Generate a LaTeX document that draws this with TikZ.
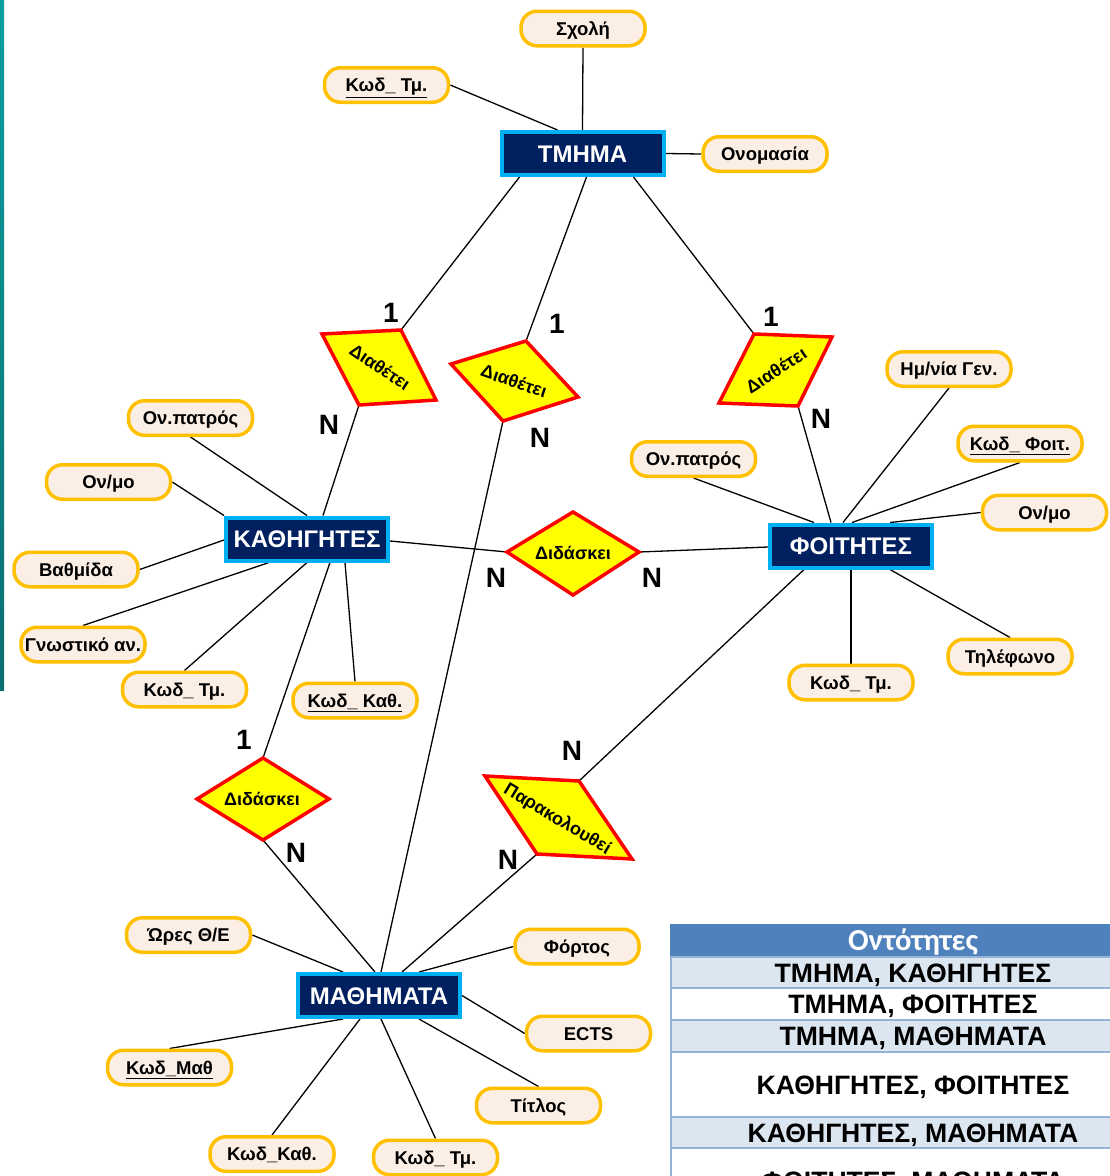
\documentclass[tikz,border=0pt]{standalone}
\usepackage{fontspec}
\setmainfont{Liberation Sans}
\newfontfamily\calibfont{Carlito}
\usetikzlibrary{calc}
\definecolor{entfill}{HTML}{002060}
\definecolor{entline}{HTML}{00B0F0}
\definecolor{attfill}{HTML}{FBEEE5}
\definecolor{attline}{HTML}{FFC000}
\definecolor{relfill}{HTML}{FFFF00}
\definecolor{relline}{HTML}{FF0000}
\definecolor{hdrfill}{HTML}{4F81BD}
\definecolor{rowfill}{HTML}{DCE6F1}
\definecolor{rowline}{HTML}{95B3D7}
\definecolor{tealA}{HTML}{0A9E9E}
\definecolor{tealB}{HTML}{0B6E70}
\pgfdeclarelayer{bg}
\pgfsetlayers{bg,main}
\begin{document}
\begin{tikzpicture}[x=1pt,y=-1pt,
 ent/.style={draw=entline, fill=entfill, line width=4pt, minimum width=162pt, minimum height=43pt, text=white, font=\fontsize{24}{26}\selectfont\bfseries, inner sep=0pt, text height=17.2pt, text depth=0pt},
 att/.style={draw=attline, fill=attfill, line width=3.5pt, rounded corners=16pt, minimum width=124pt, minimum height=34.5pt, font=\fontsize{18.5}{20}\selectfont\bfseries, inner sep=0pt, text height=13.3pt, text depth=0pt},
 rel/.style={draw=relline, fill=relfill, line width=3.5pt, line join=miter},
 reltext/.style={font=\fontsize{18}{20}\selectfont\bfseries, inner sep=0pt, text height=12.9pt, text depth=0pt},
 card/.style={font=\fontsize{28}{30}\selectfont\bfseries, inner sep=0pt, text height=20pt, text depth=0pt},
 conn/.style={line width=1.3pt, draw=black},
 rowtext/.style={font=\fontsize{26.6}{28}\selectfont\bfseries, inner sep=0pt, text height=19.1pt, text depth=0pt},
 sep/.style={draw=rowline, line width=2pt}
]
\useasboundingbox (0,0) rectangle (1110,1176);
\clip (0,0) rectangle (1110,1176);
\begin{pgfonlayer}{bg}
\fill[white] (0,0) rectangle (1110,1176);
\end{pgfonlayer}
\shade[top color=tealA, bottom color=tealB] (0,0) rectangle (4,690);

% entities
\node[ent] (tmima) at (582.5,153.5) {ΤΜΗΜΑ};
\node[ent] (kath) at (307,539) {ΚΑΘΗΓΗΤΕΣ};
\node[ent] (foit) at (851,546) {ΦΟΙΤΗΤΕΣ};
\node[ent] (math) at (379,995.5) {ΜΑΘΗΜΑΤΑ};

% attributes
\node[att] (sxoli) at (583,28.5) {Σχολή};
\node[att] (tkod) at (386.5,85) {\underline{Κωδ\_ Τμ.}};
\node[att] (tonom) at (765,154) {Ονομασία};
\node[att] (kpat) at (190.5,418) {Ον.πατρός};
\node[att] (konmo) at (108.5,482) {Ον/μο};
\node[att] (kvath) at (76,569.5) {Βαθμίδα};
\node[att] (kgnos) at (83,644.5) {Γνωστικό αν.};
\node[att] (kkodtm) at (184.5,689.5) {Κωδ\_ Τμ.};
\node[att] (kkod) at (355,700.5) {\underline{Κωδ\_ Καθ.}};
\node[att] (fhm) at (949,369) {Ημ/νία Γεν.};
\node[att] (fkod) at (1020,443.5) {\underline{Κωδ\_ Φοιτ.}};
\node[att] (fpat) at (693.5,459) {Ον.πατρός};
\node[att] (fonmo) at (1044.5,512.5) {Ον/μο};
\node[att] (ftil) at (1010,656.5) {Τηλέφωνο};
\node[att] (fkodtm) at (851,682.5) {Κωδ\_ Τμ.};
\node[att] (mores) at (188.5,935) {Ώρες Θ/Ε};
\node[att] (mfort) at (577,946.5) {Φόρτος};
\node[att] (mects) at (588.5,1033.5) {ECTS};
\node[att] (mkodm) at (169.5,1067.5) {\underline{Κωδ\_Μαθ}};
\node[att] (mtitl) at (538.5,1105.5) {Τίτλος};
\node[att] (mkodk) at (272,1154) {Κωδ\_Καθ.};
\node[att] (mkodt) at (435.5,1157.5) {Κωδ\_ Τμ.};

% relationship vertices
\coordinate (d1a) at (322,334); \coordinate (d1b) at (401,330);
\coordinate (d1c) at (436,400); \coordinate (d1d) at (359,405);
\coordinate (d2a) at (526,341); \coordinate (d2b) at (578,397);
\coordinate (d2c) at (503,421); \coordinate (d2d) at (451,364);
\coordinate (d3a) at (754,334); \coordinate (d3b) at (832,337);
\coordinate (d3c) at (798,406); \coordinate (d3d) at (719,403);
\coordinate (d5l) at (507,552); \coordinate (d5t) at (573,512);
\coordinate (d5r) at (639,552); \coordinate (d5b) at (573,595);
\coordinate (d4l) at (197,799); \coordinate (d4t) at (263,758);
\coordinate (d4r) at (329,799); \coordinate (d4b) at (263,840);
\coordinate (d6a) at (485,776); \coordinate (d6b) at (579,781);
\coordinate (d6c) at (632,859); \coordinate (d6d) at (537,854);

\draw[rel] (d1a)--(d1b)--(d1c)--(d1d)--cycle;
\draw[rel] (d2a)--(d2b)--(d2c)--(d2d)--cycle;
\draw[rel] (d3a)--(d3b)--(d3c)--(d3d)--cycle;
\draw[rel] (d5l)--(d5t)--(d5r)--(d5b)--cycle;
\draw[rel] (d4l)--(d4t)--(d4r)--(d4b)--cycle;
\draw[rel] (d6a)--(d6b)--(d6c)--(d6d)--cycle;
\node[reltext, rotate=-34] (d1) at (380,367) {Διαθέτει};
\node[reltext, rotate=-19] (d2) at (514,381) {Διαθέτει};
\node[reltext, rotate=33] (d3) at (776,370) {Διαθέτει};
\node[reltext] (d5) at (573,553) {Διδάσκει};
\node[reltext] (d4) at (262,799) {Διδάσκει};
\node[reltext, rotate=-31] (d6) at (558,818) {Παρακολουθεί};

% cardinalities
\node[card] (c1) at (391,312) {1};
\node[card] (c2) at (329,424) {N};
\node[card] (c3) at (557,323) {1};
\node[card] (c4) at (540,437) {N};
\node[card] (c5) at (771,316) {1};
\node[card] (c6) at (821,418) {N};
\node[card] (c7) at (496,577) {N};
\node[card] (c8) at (652,577) {N};
\node[card] (c9) at (244,739) {1};
\node[card] (c10) at (296,852) {N};
\node[card] (c11) at (572,750) {N};
\node[card] (c12) at (508,859) {N};

% connectors
\begin{pgfonlayer}{bg}
\draw[conn] (sxoli.south) -- (tmima.north);
\draw[conn] (tkod.east) -- ([xshift=-25pt]tmima.north);
\draw[conn] (tmima.east) -- (tonom.west);
\draw[conn] ([xshift=-63pt]tmima.south) -- (d1b);
\draw[conn] ([xshift=4pt]tmima.south) -- (d2a);
\draw[conn] ([xshift=51pt]tmima.south) -- (d3a);

\draw[conn] (kpat.south) -- (kath.north);
\draw[conn] (konmo.east) -- (kath.north west);
\draw[conn] (kvath.east) -- ([yshift=-1pt]kath.west);
\draw[conn] (kgnos.north) -- ([xshift=-38pt]kath.south);
\draw[conn] (kkodtm.north) -- (kath.south);
\draw[conn] (kkod.north) -- ([xshift=38pt]kath.south);
\draw[conn] (d1d) -- ([xshift=16pt]kath.north);
\draw[conn] ([xshift=23pt]kath.south) -- (d4t);
\draw[conn] ([yshift=-2pt]kath.east) -- (d5l);

\draw[conn] (d3c) -- ([xshift=-20pt]foit.north);
\draw[conn] (fhm.south) -- ([xshift=-8pt]foit.north);
\draw[conn] (fkod.south) -- ([xshift=1pt]foit.north);
\draw[conn] (fpat.south) -- ([xshift=-37pt]foit.north);
\draw[conn] (fonmo.west) -- ([xshift=39pt]foit.north);
\draw[conn] (d5r) -- ([yshift=-1pt]foit.west);
\draw[conn] (ftil.north) -- ([xshift=39pt]foit.south);
\draw[conn] (fkodtm.north) -- (foit.south);
\draw[conn] ([xshift=-47pt]foit.south) -- (d6b);

\draw[conn] (mores.east) -- ([xshift=-36pt]math.north);
\draw[conn] (d4b) -- ([xshift=-4pt]math.north);
\draw[conn] (d2c) -- ([xshift=2pt]math.north);
\draw[conn] (d6d) -- ([xshift=23pt]math.north);
\draw[conn] (mfort.west) -- ([xshift=40pt]math.north);
\draw[conn] (mects.west) -- (math.east);
\draw[conn] (mkodm.north) -- ([xshift=-36pt]math.south);
\draw[conn] (mkodk.north) -- ([xshift=-19pt]math.south);
\draw[conn] (mkodt.north) -- ([xshift=2pt]math.south);
\draw[conn] (mtitl.north) -- ([xshift=40pt]math.south);
\end{pgfonlayer}

% table
\fill[hdrfill] (670,924) rectangle (1160,957);
\fill[rowfill] (670,957) rectangle (1160,988);
\fill[rowfill] (670,1020) rectangle (1160,1052);
\fill[rowfill] (670,1117) rectangle (1160,1148);
\draw[sep] (670,957) -- (1160,957);
\draw[sep] (670,988) -- (1160,988);
\draw[sep] (670,1020) -- (1160,1020);
\draw[sep] (670,1052) -- (1160,1052);
\draw[sep] (670,1117) -- (1160,1117);
\draw[sep] (670,1148) -- (1160,1148);
\draw[sep] (671,957) -- (671,1176);
\node[font=\calibfont\fontsize{30.5}{32}\selectfont\bfseries, text=white, inner sep=0pt, text height=19pt, text depth=0pt] (hdr) at (913,941) {Οντότητες};
\node[rowtext] (r1) at (913,972.5) {ΤΜΗΜΑ, ΚΑΘΗΓΗΤΕΣ};
\node[rowtext] (r2) at (913,1004) {ΤΜΗΜΑ, ΦΟΙΤΗΤΕΣ};
\node[rowtext] (r3) at (913,1036) {ΤΜΗΜΑ, ΜΑΘΗΜΑΤΑ};
\node[rowtext] (r4) at (913,1084.5) {ΚΑΘΗΓΗΤΕΣ, ΦΟΙΤΗΤΕΣ};
\node[rowtext] (r5) at (913,1132.5) {ΚΑΘΗΓΗΤΕΣ, ΜΑΘΗΜΑΤΑ};
\node[rowtext] (r6) at (913,1181) {ΦΟΙΤΗΤΕΣ, ΜΑΘΗΜΑΤΑ};
\end{tikzpicture}
\end{document}
